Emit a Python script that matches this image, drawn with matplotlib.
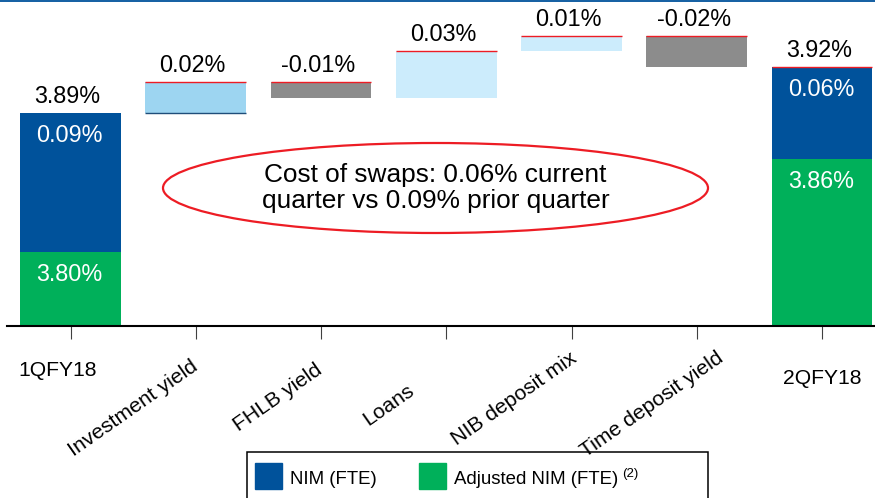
import matplotlib
matplotlib.use('Agg')
from matplotlib import pyplot as plt
from matplotlib import patches, transforms
from matplotlib.lines import Line2D

plt.rcParams['font.family'] = ['Liberation Sans', 'DejaVu Sans']

# Datos del gráfico (NIM trimestral, en %)
categorias = ['1QFY18', 'Investment yield', 'FHLB yield', 'Loans',
              'NIB deposit mix', 'Time deposit yield', '2QFY18']
nim = [3.89, 3.92]              # NIM (FTE) inicio / fin
nim_ajustado = [3.80, 3.86]     # Adjusted NIM (FTE)
cambios = [0.02, -0.01, 0.03, 0.01, -0.02]
series = ['NIM (FTE)', 'Adjusted NIM (FTE)']
nota = 'Cost of swaps: 0.06% current\nquarter vs 0.09% prior quarter'

# Colores
AZUL = '#00529B'
VERDE = '#00B05A'
ROJO = '#ED1C24'
GRIS = '#8C8C8C'
colores_cambio = ['#9DD5F1', GRIS, '#CCECFC', '#CCECFC', GRIS]

fig = plt.figure(figsize=(8.75, 4.98), dpi=100)
W, H = 875, 498
ax = fig.add_axes([7 / W, 1 - 326 / H, 868 / W, 326 / H])

y_base = 3.752
ax.set_ylim(y_base, 3.9633)
ax.set_xlim(-0.507, 6.423)
ancho = 0.806
x = list(range(len(categorias)))
xs_fin = [x[0], x[-1]]

# Barras de inicio y fin (apiladas)
ax.bar(xs_fin, [v - y_base for v in nim_ajustado], bottom=y_base,
       width=ancho, color=VERDE, label=series[1])
ax.bar(xs_fin, [n - a for n, a in zip(nim, nim_ajustado)], bottom=nim_ajustado,
       width=ancho, color=AZUL, label=series[0])

# Barras de cascada
nivel = nim[0]
tops = []
for i, c in enumerate(cambios):
    xi = x[i + 1]
    ax.bar(xi, c, bottom=nivel, width=ancho, color=colores_cambio[i])
    tops.append(max(nivel, nivel + c))
    if i == 0:
        ax.hlines(nivel, xi - ancho / 2, xi + ancho / 2, color='#1F4E79', lw=1.0)
    nivel += c
tops.append(nim[1])
for xi, t in zip(x[1:], tops):
    ax.hlines(t, xi - ancho / 2, xi + ancho / 2, color=ROJO, lw=1.0)

# Etiquetas de valores
px = lambda dx, dy: dict(xytext=(dx * 0.72, dy * 0.72), textcoords='offset points')
tot_tops = [nim[0]] + tops
etiquetas = [f'{nim[0]:.2f}%'] + [f'{c:.2f}%' for c in cambios] + [f'{nim[1]:.2f}%']
for xi, t, lab in zip(x, tot_tops, etiquetas):
    ax.annotate(lab, (xi, t), ha='center', va='baseline', fontsize=16.8,
                color='black', **px(-3, 10))
for xi, n, a in zip(xs_fin, nim, nim_ajustado):
    ax.annotate(f'{n - a:.2f}%', (xi, n), ha='center', va='top', fontsize=16.8,
                color='white', **px(-1, -11))
    ax.annotate(f'{a:.2f}%', (xi, a), ha='center', va='top', fontsize=16.8,
                color='white', **px(-1, -11))

# Ejes
for s in ['left', 'right', 'top']:
    ax.spines[s].set_visible(False)
ax.spines['bottom'].set_linewidth(1.5)
ax.set_yticks([])
ax.set_xticks(x)
ax.set_xticklabels([])
ax.tick_params(axis='x', length=9.4, width=0.8, color='#404040')

# Etiquetas del eje x (posiciones en pixeles)
desplaz = [(-13, 35), (-5, 31), (-6, 34), (-40, 55), (-2, 22), (19, 22), (0, 43)]
for i, (xi, lab) in enumerate(zip(x, categorias)):
    dx, dy = desplaz[i]
    tr = transforms.offset_copy(ax.get_xaxis_transform(), fig=fig,
                                x=dx, y=-dy, units='dots')
    if i in (0, len(x) - 1):
        ax.text(xi, 0, lab, transform=tr, ha='center', va='top', fontsize=15.2)
    else:
        ax.text(xi, 0, lab, transform=tr, ha='right', va='top', fontsize=15.2,
                rotation=35, rotation_mode='anchor')

# Línea azul superior
fig.add_artist(Line2D([0, 1], [1 - 0.8 / H, 1 - 0.8 / H], color=AZUL, lw=1.3,
                      transform=fig.transFigure))

# Elipse con nota
cx, cy = 435.5 / W, 1 - 188 / H
fig.add_artist(patches.Ellipse((cx, cy), 545 / W, 90 / H, fill=False,
                               edgecolor=ROJO, lw=1.6, transform=fig.transFigure))
fig.text(cx, cy, nota, ha='center', va='center', fontsize=18.9, linespacing=1.15)

# Leyenda manual
fig.add_artist(patches.Rectangle((247 / W, -10 / H), 461 / W, (H - 452 + 10) / H,
                                 fill=False, edgecolor='black', lw=1.1,
                                 transform=fig.transFigure))
for (x0, col, txt, xt) in [(255, AZUL, series[0], 290), (419, VERDE, series[1], 454)]:
    fig.add_artist(patches.Rectangle((x0 / W, 1 - 489 / H), 27 / W, 26 / H,
                                     color=col, transform=fig.transFigure))
    t = fig.text(xt / W, 1 - 484 / H, txt, ha='left', va='baseline', fontsize=13.4)
fig.canvas.draw()
ax.annotate('(2)', xy=(1, 1), xycoords=t, xytext=(3, 2.5), textcoords='offset points',
            ha='left', va='top', fontsize=9.5)

fig.savefig('out.png', dpi=100)
